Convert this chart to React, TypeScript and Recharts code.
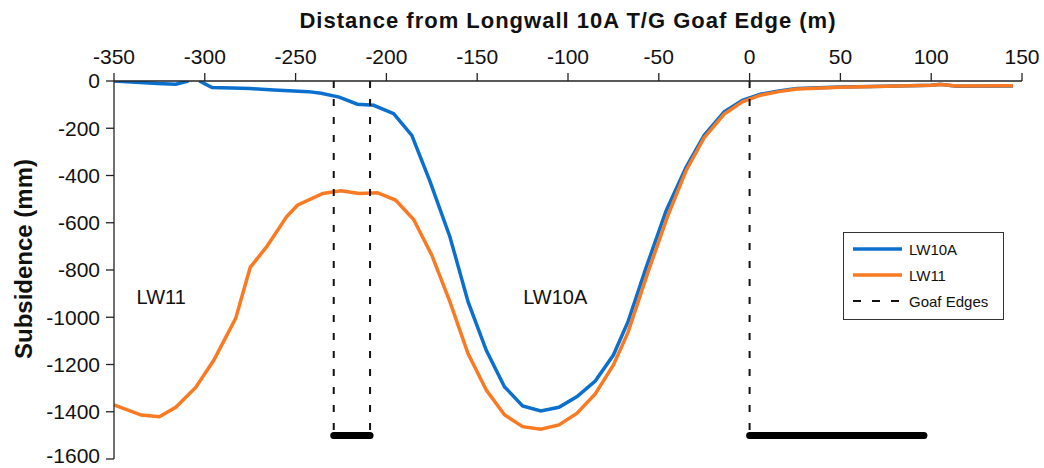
import { Legend, Line, LineChart, ReferenceDot, XAxis, YAxis } from "recharts";

const FONT = "'Liberation Sans', Arial, Helvetica, sans-serif";
const BLUE = "#0B6FCE";
const ORANGE = "#F97A22";
const EDGE = "#111";

// top axis: distance (m), left axis: subsidence (mm)
const X_TICKS = [-350, -300, -250, -200, -150, -100, -50, 0, 50, 100, 150];
const Y_TICKS = [0, -200, -400, -600, -800, -1000, -1200, -1400, -1600];

// LW10A profile (null = missing survey mark)
const LW10A_X = [
  -350, -338, -326, -316, -309, -306, -303, -296, -285, -275, -262, -251, -243, -236, -226, -216,
  -207, -196, -186, -176, -165, -155, -145, -135, -125, -115, -105, -95, -85, -75, -67, -57, -46,
  -35, -25, -14, -4, 6, 16, 26, 50, 75, 100, 105, 114, 145,
];
const LW10A_Y = [
  0, -5, -11, -14, 0, null, 0, -28, -30, -32, -38, -42, -45, -52, -68, -98, -103, -138, -230, -425,
  -660, -935, -1140, -1294, -1375, -1397, -1381, -1336, -1270, -1160, -1020, -790, -550, -365, -230,
  -131, -82, -56, -42, -32, -25, -22, -18, -14, -22, -21,
];

// LW11 profile
const LW11_X = [
  -350, -335, -325, -316, -305, -295, -283, -275, -266, -255, -249, -235, -225, -215, -205, -195,
  -185, -175, -165, -155, -145, -135, -125, -115, -105, -95, -85, -75, -67, -56, -45, -35, -25,
  -14, -4, 6, 16, 26, 50, 75, 100, 105, 114, 145,
];
const LW11_Y = [
  -1371, -1414, -1421, -1381, -1297, -1181, -1005, -789, -702, -575, -526, -476, -465, -476, -473,
  -504, -586, -737, -935, -1155, -1308, -1413, -1463, -1474, -1456, -1406, -1325, -1202, -1065,
  -810, -570, -380, -240, -140, -88, -60, -45, -34, -26, -22, -18, -15, -21, -20,
];

// goaf edges and panel extents
const GOAF_EDGES = [-229, -209, 0];
const GOAF_TOP = 0;
const GOAF_BOTTOM = -1500;
const PANEL_SPANS = [
  [-229, -209],
  [0, 96],
];

const PANEL_LABELS = ["LW11", "LW10A"];
const PANEL_LABEL_X = [-324, -107];
const PANEL_LABEL_Y = [-913, -915];

const LEGEND_NAMES = ["LW10A", "LW11", "Goaf Edges"];
const LEGEND_COLORS = [BLUE, ORANGE, EDGE];
const LEGEND_DASHED = [false, false, true];

const zip = (xs: number[], ys: (number | null)[]) => xs.map((x, i) => ({ x, y: ys[i] }));

const lw10a = zip(LW10A_X, LW10A_Y);
const lw11 = zip(LW11_X, LW11_Y);

function LegendBox() {
  return (
    <div
      style={{
        position: "relative",
        width: 161,
        height: 88,
        boxSizing: "border-box",
        border: "1.5px solid #333",
        background: "#fff",
        fontFamily: FONT,
      }}
    >
      {LEGEND_NAMES.map((name, i) => {
        const dashed = LEGEND_DASHED[i];
        return (
          <div
            key={name}
            style={{
              position: "absolute",
              left: 9,
              top: 5 + i * 26,
              height: 22,
              display: "flex",
              alignItems: "center",
              whiteSpace: "nowrap",
            }}
          >
            <svg width={49} height={8}>
              <line
                x1={0}
                y1={4}
                x2={49}
                y2={4}
                stroke={LEGEND_COLORS[i]}
                strokeWidth={dashed ? 2 : 3.5}
                strokeDasharray={dashed ? "8 11" : undefined}
              />
            </svg>
            <span style={{ marginLeft: 7, fontSize: 15, color: "#111" }}>{name}</span>
          </div>
        );
      })}
    </div>
  );
}

function YTitle({ viewBox }: { viewBox?: any }) {
  const x = (viewBox?.x ?? 0) + 23;
  const y = 259;
  return (
    <text
      x={x}
      y={y}
      transform={`rotate(-90, ${x}, ${y})`}
      textAnchor="middle"
      dominantBaseline="central"
      fontSize={24}
      fontWeight="bold"
      fill="#111"
    >
      Subsidence (mm)
    </text>
  );
}

export default function App() {
  return (
    <div style={{ position: "absolute", left: 0, top: 0, background: "#fff", fontFamily: FONT }}>
      <LineChart width={1044} height={468} margin={{ top: 0, right: 22, bottom: 9, left: 0 }}>
        <XAxis
          type="number"
          dataKey="x"
          orientation="top"
          domain={[-350, 150]}
          ticks={X_TICKS}
          allowDataOverflow
          height={81}
          tickSize={8}
          tickMargin={9}
          tick={{ fontSize: 21, fill: "#111" }}
          axisLine={{ stroke: "#222", strokeWidth: 1.3 }}
          tickLine={{ stroke: "#222", strokeWidth: 1.3 }}
          label={{
            value: "Distance from Longwall 10A T/G Goaf Edge (m)",
            position: "insideTop",
            offset: 12,
            fontSize: 22,
            fontWeight: "bold",
            fill: "#111",
            letterSpacing: 1,
          }}
        />
        <XAxis
          xAxisId="frame"
          type="number"
          orientation="bottom"
          domain={[-350, 150]}
          height={0}
          tick={false}
          tickLine={false}
          axisLine={{ stroke: "#444", strokeWidth: 1.5 }}
        />
        <YAxis
          type="number"
          domain={[-1600, 0]}
          ticks={Y_TICKS}
          allowDataOverflow
          width={114}
          tickSize={8}
          tickMargin={6}
          tick={{ fontSize: 21, fill: "#111" }}
          axisLine={{ stroke: "#222", strokeWidth: 1.3 }}
          tickLine={{ stroke: "#222", strokeWidth: 1.3 }}
          label={<YTitle />}
        />
        <YAxis
          yAxisId="frame"
          type="number"
          orientation="right"
          domain={[-1600, 0]}
          width={0}
          tick={false}
          tickLine={false}
          axisLine={{ stroke: "#444", strokeWidth: 1.5 }}
        />
        <Legend
          layout="vertical"
          align="center"
          verticalAlign="middle"
          wrapperStyle={{ left: 843, top: 232, width: 161, margin: 0, padding: 0 }}
          content={<LegendBox />}
        />
        <Line
          data={lw10a}
          dataKey="y"
          name="LW10A"
          stroke={BLUE}
          strokeWidth={3.5}
          dot={false}
          activeDot={false}
          isAnimationActive={false}
        />
        <Line
          data={lw11}
          dataKey="y"
          name="LW11"
          stroke={ORANGE}
          strokeWidth={3.5}
          dot={false}
          activeDot={false}
          isAnimationActive={false}
        />
        {GOAF_EDGES.map((gx, i) => (
          <Line
            key={`edge${i}`}
            data={[
              { x: gx, y: GOAF_TOP },
              { x: gx, y: GOAF_BOTTOM },
            ]}
            dataKey="y"
            name="Goaf Edges"
            stroke={EDGE}
            strokeWidth={2}
            strokeDasharray="7 11"
            dot={false}
            activeDot={false}
            isAnimationActive={false}
          />
        ))}
        {PANEL_SPANS.map(([a, b], i) => (
          <Line
            key={`span${i}`}
            data={[
              { x: a, y: GOAF_BOTTOM },
              { x: b, y: GOAF_BOTTOM },
            ]}
            dataKey="y"
            stroke="#000"
            strokeWidth={7}
            strokeLinecap="round"
            dot={false}
            activeDot={false}
            isAnimationActive={false}
          />
        ))}
        {PANEL_LABELS.map((t, i) => (
          <ReferenceDot
            key={t}
            x={PANEL_LABEL_X[i]}
            y={PANEL_LABEL_Y[i]}
            r={0}
            fill="none"
            stroke="none"
            label={{ value: t, position: "center", fontSize: 20, fill: "#111" }}
          />
        ))}
      </LineChart>
    </div>
  );
}
